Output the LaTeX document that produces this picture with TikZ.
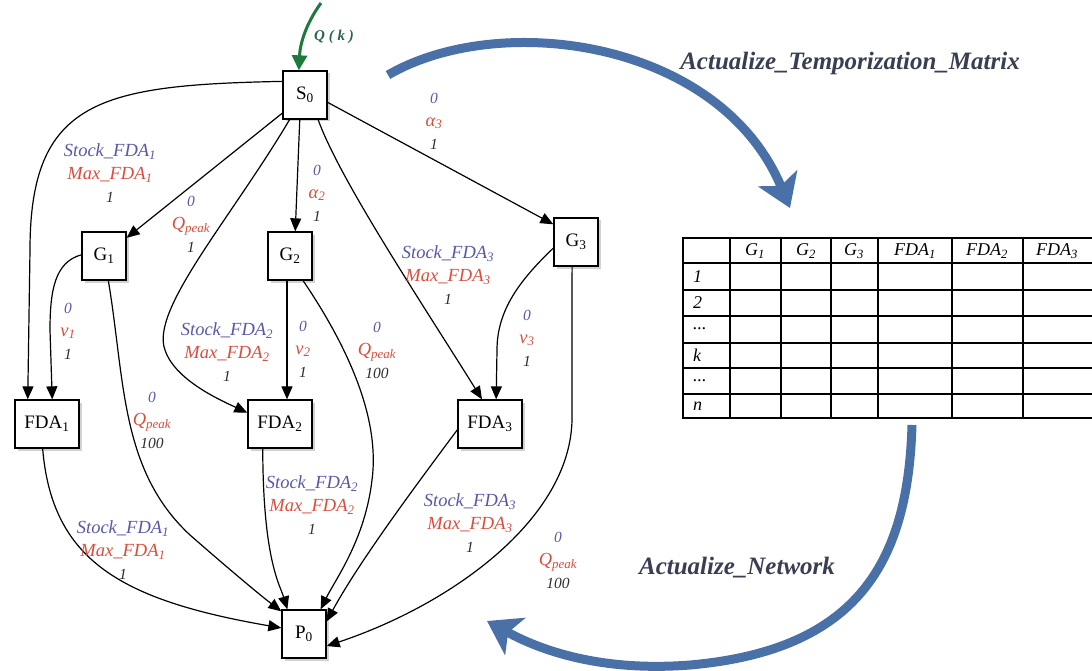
\documentclass[tikz,border=0pt]{standalone}
\usepackage{fontspec}
\setmainfont{Liberation Serif}
\usetikzlibrary{arrows.meta,shadows}
\definecolor{lblue}{RGB}{88,88,170}
\definecolor{lred}{RGB}{218,78,62}
\definecolor{lnum}{RGB}{45,45,45}
\definecolor{bigblue}{RGB}{74,112,168}
\definecolor{qgreen}{RGB}{30,122,60}
\definecolor{qtext}{RGB}{40,100,80}
\definecolor{titlec}{RGB}{58,62,82}
\newcommand{\sbs}[1]{\textsubscript{#1}}
\newcommand{\lbl}[1]{{\color{lblue}#1}}
\newcommand{\lrd}[1]{{\color{lred}#1}}
\newcommand{\nmb}[1]{{\fontsize{15.5}{23}\selectfont\color{lnum}#1}}
\tikzset{
  box/.style={draw, line width=1.3pt, fill=white, minimum width=44pt, minimum height=48pt,
    inner sep=1pt, font=\fontsize{19}{19}\selectfont,
    drop shadow={shadow xshift=2.5pt, shadow yshift=-2.5pt, opacity=0.35}},
  fdabox/.style={box, minimum width=64pt},
  arr/.style={-{Triangle[length=13pt,width=11pt]}, line width=1.2pt},
  elab/.style={align=center, inner sep=0pt, font=\fontsize{18.5}{23}\selectfont\itshape},
  tbl/.style={line width=1.6pt, line cap=rect},
  ttext/.style={font=\fontsize{18}{18}\selectfont\itshape, inner sep=0pt},
  bigarrow/.style={draw=bigblue, line width=9pt,
    -{Stealth[length=32pt,width=42pt,inset=8pt]}},
  title/.style={font=\fontsize{25}{25}\selectfont\bfseries\itshape, text=titlec}
}
\begin{document}
\begin{tikzpicture}[x=1pt,y=-1pt]
\useasboundingbox (0,0) rectangle (1092,671);
\fill[white] (0,0) rectangle (1092,671);

% nodes
\node[box] (S0) at (305,95) {S\sbs{0}};
\node[box] (G1) at (104,256) {G\sbs{1}};
\node[box] (G2) at (290,256) {G\sbs{2}};
\node[box] (G3) at (576,242) {G\sbs{3}};
\node[fdabox] (F1) at (47,424) {FDA\sbs{1}};
\node[fdabox] (F2) at (280,424) {FDA\sbs{2}};
\node[fdabox] (F3) at (490,424) {FDA\sbs{3}};
\node[box] (P0) at (304,634) {P\sbs{0}};

% input
\coordinate (qin) at (321,3);
\draw[qgreen, line width=3pt, -{Triangle[length=15pt,width=15pt]}]
  (qin) .. controls (305,25) and (300,45) .. (S0.104);
\node[font=\fontsize{15}{15}\selectfont\bfseries\itshape, text=qtext] (qk) at (334,37) {Q ( k )};

% edges
\draw[arr] (S0.149) .. controls (100,85) and (30,100) .. (30,250) -- (F1.128);
\draw[arr] (S0) -- (G1);
\draw[arr] (S0.238) .. controls (230,220) and (150,310) .. (165,350) .. controls (175,380) and (220,400) .. (F2.161);
\draw[arr] (S0.258) -- (G2.78);
\draw[arr] (S0.298) .. controls (340,180) and (420,300) .. (F3.108);
\draw[arr] (S0.342) -- (G3.142);
\draw[arr] (G1.177) .. controls (55,262) and (50,290) .. (50,330) -- (F1.78);
\draw[arr] (G1.280) .. controls (125,380) and (120,470) .. (190,535) .. controls (230,570) and (260,595) .. (P0.135);
\draw[arr] ([xshift=-3pt]G2.south) -- ([xshift=-3pt]G2.south |- F2.north);
\draw[arr] (G2.298) .. controls (350,350) and (380,420) .. (372,480) .. controls (365,540) and (335,580) .. (P0.56);
\draw[arr] (G3.195) .. controls (520,280) and (497,310) .. (497,350) -- (F3.76);
\draw[arr] (G3.261) -- (572,420) .. controls (570,520) and (450,605) .. (P0.332);
\draw[arr] (F1.260) .. controls (52,560) and (120,600) .. (P0.165);
\draw[arr] (F2.235) .. controls (263,560) and (280,585) .. (P0.124);
\draw[arr] (F3.190) .. controls (420,480) and (360,560) .. (P0.29);

% edge labels
\node[elab] (l1) at (110,173) {\lbl{Stock\_FDA\sbs{1}}\\\lrd{Max\_FDA\sbs{1}}\\\nmb{1}};
\node[elab] (l2) at (191,224) {\nmb{\color{lblue}0}\\\lrd{Q\sbs{peak}}\\\nmb{1}};
\node[elab] (l3) at (227,352) {\lbl{Stock\_FDA\sbs{2}}\\\lrd{Max\_FDA\sbs{2}}\\\nmb{1}};
\node[elab] (l4) at (317,193) {\nmb{\color{lblue}0}\\\lrd{α\sbs{2}}\\\nmb{1}};
\node[elab] (l5) at (448,275) {\lbl{Stock\_FDA\sbs{3}}\\\lrd{Max\_FDA\sbs{3}}\\\nmb{1}};
\node[elab] (l6) at (434,121) {\nmb{\color{lblue}0}\\\lrd{α\sbs{3}}\\\nmb{1}};
\node[elab] (l7) at (68,331) {\nmb{\color{lblue}0}\\\lrd{v\sbs{1}}\\\nmb{1}};
\node[elab] (l8) at (152,420) {\nmb{\color{lblue}0}\\\lrd{Q\sbs{peak}}\\\nmb{100}};
\node[elab] (l9) at (303,349) {\nmb{\color{lblue}0}\\\lrd{v\sbs{2}}\\\nmb{1}};
\node[elab] (l10) at (377,350) {\nmb{\color{lblue}0}\\\lrd{Q\sbs{peak}}\\\nmb{100}};
\node[elab] (l11) at (527,338) {\nmb{\color{lblue}0}\\\lrd{v\sbs{3}}\\\nmb{1}};
\node[elab] (l12) at (558,560) {\nmb{\color{lblue}0}\\\lrd{Q\sbs{peak}}\\\nmb{100}};
\node[elab] (l13) at (123,550) {\lbl{Stock\_FDA\sbs{1}}\\\lrd{Max\_FDA\sbs{1}}\\\nmb{1}};
\node[elab] (l14) at (312,505) {\lbl{Stock\_FDA\sbs{2}}\\\lrd{Max\_FDA\sbs{2}}\\\nmb{1}};
\node[elab] (l15) at (470,523) {\lbl{Stock\_FDA\sbs{3}}\\\lrd{Max\_FDA\sbs{3}}\\\nmb{1}};

% table
\foreach \y in {238,263,290,316,343,368,394,418} \draw[tbl] (683,\y) -- (1092,\y);
\foreach \x in {683,730,781,831,878,952,1023} \draw[tbl] (\x,238) -- (\x,418);
\node[ttext] (h1) at (755,251) {G\sbs{1}};
\node[ttext] (h2) at (806,251) {G\sbs{2}};
\node[ttext] (h3) at (854,251) {G\sbs{3}};
\node[ttext] (h4) at (915,251) {FDA\sbs{1}};
\node[ttext] (h5) at (987,251) {FDA\sbs{2}};
\node[ttext] (h6) at (1057,251) {FDA\sbs{3}};
\node[ttext, anchor=west] (r1) at (693,277) {1};
\node[ttext, anchor=west] (r2) at (693,303) {2};
\node[ttext, anchor=west] (r3) at (693,329) {...};
\node[ttext, anchor=west] (r4) at (693,355) {k};
\node[ttext, anchor=west] (r5) at (693,381) {...};
\node[ttext, anchor=west] (r6) at (693,406) {n};

% big arrows
\coordinate (a1s) at (388,75);
\coordinate (a1e) at (790,208);
\coordinate (a2s) at (912,425);
\coordinate (a2e) at (487,621);
\draw[bigarrow] (a1s) .. controls (500,10) and (720,40) .. (a1e);
\draw[bigarrow] (a2s) .. controls (908,560) and (860,650) .. (690,665) .. controls (600,672) and (540,650) .. (a2e);
\node[title] (t1) at (850,63) {Actualize\_Temporization\_Matrix};
\node[title] (t2) at (737,568) {Actualize\_Network};
\end{tikzpicture}
\end{document}
